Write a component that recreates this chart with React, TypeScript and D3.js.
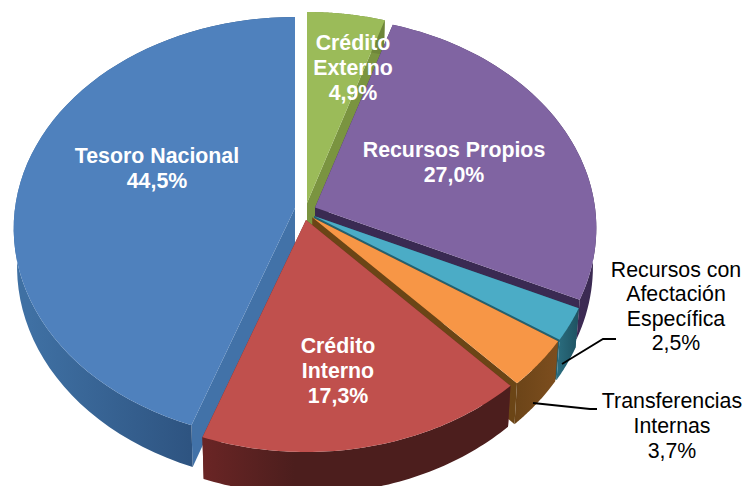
import React from "react";
import * as d3 from "d3";

const categories = ["Crédito Externo", "Recursos Propios", "Recursos con Afectación Específica", "Transferencias Internas", "Crédito Interno", "Tesoro Nacional"];
const values = [4.9, 27.0, 2.5, 3.7, 17.3, 44.5];
const valueLabels = ["4,9%", "27,0%", "2,5%", "3,7%", "17,3%", "44,5%"];

const topColors = ["#9bbb59", "#8064a2", "#4bacc6", "#f79646", "#c0504d", "#4f81bd"];
const faceColors = ["#7a9440", "#3a2a52", "#24606f", "#6b4516", "#6a2523", "#4272a8"];
const rimStart = ["#7a9440", "#4a3568", "#2b6e80", "#6b4418", "#6a2525", "#3f70a3"];
const rimEnd = ["#6d8539", "#3b2a52", "#1e5261", "#7d4e1e", "#4c1e1d", "#2e5481"];
const apex: [number, number][] = [[307, 203], [315, 207.5], [314, 216], [312.5, 217.5], [306, 220], [295, 208]];

const RX = 280, RY = 209.5, K = 0.097, DEPTH = 38;

// perspective projection of the unit pie disc; z = 0 top face, z = 1 bottom face
function project(theta: number, r: number, z: number, o: [number, number]): [number, number] {
  const X = Math.sin(theta) * r, Y = -Math.cos(theta) * r;
  const d = 1 - K * Y;
  const s = 1 - 0.012 * z;
  return [o[0] + (RX * X * s) / d, o[1] + (RY * Y) / d + (DEPTH * z) / d];
}

const line = d3.line();

const labelStyle = { fontFamily: "'Liberation Sans', Arial, sans-serif", fontSize: 21.33 };

const whiteLabels = [
  { i: 0, x: 353, ys: [50, 75, 100], lines: ["Crédito", "Externo"] },
  { i: 1, x: 454, ys: [157, 182], lines: ["Recursos Propios"] },
  { i: 4, x: 338, ys: [353, 378, 403], lines: ["Crédito", "Interno"] },
  { i: 5, x: 157, ys: [163, 188], lines: ["Tesoro Nacional"] },
];
const darkLabels = [
  { i: 2, x: 676, ys: [277, 301, 326, 350], lines: ["Recursos con", "Afectación", "Específica"] },
  { i: 3, x: 672, ys: [408, 433, 458], lines: ["Transferencias", "Internas"] },
];
const leaders: [number, number][][] = [
  [[562, 364], [603, 339], [616, 339]],
  [[533, 403], [590, 409], [597, 409]],
];

export default function App() {
  const arcs = d3.pie<number>().sort(null).startAngle(0).endAngle(2 * Math.PI)(values);
  const order = [5, 0, 1, 2, 3, 4];
  return (
    <svg width={745} height={486} style={{ position: "absolute", left: 0, top: 0, display: "block", background: "#fff" }}>
      <defs>
        {arcs.map((_, i) =>
          i === 5 ? (
            <linearGradient key={i} id={`rim${i}`} gradientUnits="userSpaceOnUse" x1={30} y1={0} x2={190} y2={0}>
              <stop offset="0" stopColor={rimStart[i]} />
              <stop offset="1" stopColor={rimEnd[i]} />
            </linearGradient>
          ) : (
            <linearGradient key={i} id={`rim${i}`} x1="0" x2="1" y1="0" y2="0">
              <stop offset="0" stopColor={rimStart[i]} />
              <stop offset={i === 4 ? "0.3" : "1"} stopColor={rimEnd[i]} />
            </linearGradient>
          )
        )}
      </defs>
      {order.map((i) => {
        const a = arcs[i];
        const o = apex[i];
        const thetas = d3.range(0, 61).map((t) => a.startAngle + ((a.endAngle - a.startAngle) * t) / 60);
        const top = thetas.map((t) => project(t, 1, 0, o));
        const bottom = thetas.map((t) => project(t, 1, 1, o));
        const c0 = project(0, 0, 0, o);
        const c1 = project(0, 0, 1, o);
        const rim = [...top, ...bottom.slice().reverse()];
        const f0 = [c0, top[0], bottom[0], c1] as [number, number][];
        const f1 = [c0, top[60], bottom[60], c1] as [number, number][];
        return (
          <g key={i}>
            <path d={line(f0) + "Z"} fill={faceColors[i]} />
            <path d={line(f1) + "Z"} fill={faceColors[i]} />
            <path d={line(rim) + "Z"} fill={`url(#rim${i})`} />
            <path d={line([c0, ...top]) + "Z"} fill={topColors[i]} />
          </g>
        );
      })}
      {leaders.map((l, i) => (
        <path key={i} d={line(l) || ""} fill="none" stroke="#000" strokeWidth={1.8} />
      ))}
      {whiteLabels.map((l) => (
        <text key={l.i} textAnchor="middle" fill="#fff" fontWeight="bold" style={labelStyle}>
          {[...l.lines, valueLabels[l.i]].map((t, j) => (
            <tspan key={j} x={l.x} y={l.ys[j]}>{t}</tspan>
          ))}
        </text>
      ))}
      {darkLabels.map((l) => (
        <text key={l.i} textAnchor="middle" fill="#000" style={labelStyle}>
          {[...l.lines, valueLabels[l.i]].map((t, j) => (
            <tspan key={j} x={l.x} y={l.ys[j]}>{t}</tspan>
          ))}
        </text>
      ))}
    </svg>
  );
}
